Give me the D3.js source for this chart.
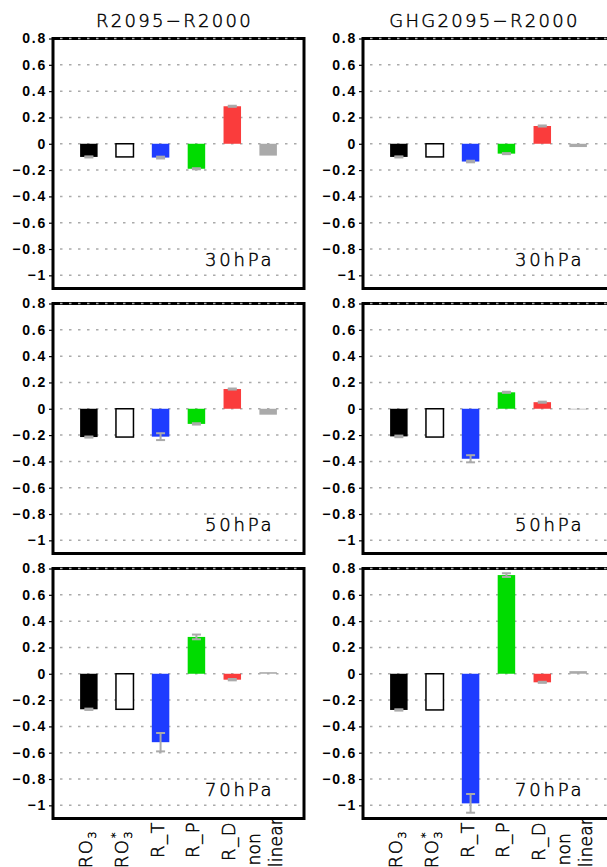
<!DOCTYPE html>
<html>
<head>
<meta charset="utf-8">
<script src="https://cdn.jsdelivr.net/npm/d3@7"></script>
<style>
  body { margin: 0; background: white; }
  svg { display: block; }
</style>
</head>
<body>
<div id="container"></div>
<script>
let w = 607;
let h = 867;

// data
let categories = ["RO3", "RO3*", "R_T", "R_P", "R_D", "non linear"];
let yTicks = [0.8, 0.6, 0.4, 0.2, 0, -0.2, -0.4, -0.6, -0.8, -1];
let titles = ["R2095\u2212R2000", "GHG2095\u2212R2000"];
let levels = ["30hPa", "50hPa", "70hPa"];

// R2095-R2000
let r30 = [-0.10, -0.10, -0.105, -0.19, 0.285, -0.09];
let r30err = [0.004, null, 0.007, 0.004, 0.004, null];
let r50 = [-0.215, -0.215, -0.212, -0.115, 0.15, -0.045];
let r50err = [0.004, null, 0.026, 0.005, 0.004, null];
let r70 = [-0.27, -0.27, -0.52, 0.28, -0.045, 0.012];
let r70err = [0.005, null, 0.07, 0.018, 0.005, null];

// GHG2095-R2000
let g30 = [-0.10, -0.10, -0.135, -0.075, 0.135, -0.025];
let g30err = [0.004, null, 0.006, 0.004, 0.004, null];
let g50 = [-0.21, -0.215, -0.38, 0.125, 0.05, -0.005];
let g50err = [0.006, null, 0.027, 0.004, 0.004, null];
let g70 = [-0.275, -0.275, -0.985, 0.75, -0.065, 0.02];
let g70err = [0.005, null, 0.071, 0.014, 0.004, null];

let panels = [
  {col: 0, row: 0, values: r30, err: r30err},
  {col: 1, row: 0, values: g30, err: g30err},
  {col: 0, row: 1, values: r50, err: r50err},
  {col: 1, row: 1, values: g50, err: g50err},
  {col: 0, row: 2, values: r70, err: r70err},
  {col: 1, row: 2, values: g70, err: g70err}
];

// styles
let barColors = ["#000000", "#ffffff", "#1e3cff", "#00dc00", "#fa3c3c", "#aaaaaa"];
let thinFont = "'DejaVu Sans', sans-serif";
let panelW = 251;
let panelH = 250;
let colX = [53, 363];
let rowY = [38.5, 303.5, 568.5];
let barW = 17.5;
let labelEnd = 821;

let viz = d3.select("#container").append("svg")
    .attr("width", w)
    .attr("height", h)
    .style("background-color", "white");

let y = d3.scaleLinear().domain([-1.1, 0.8]).range([panelH, 0]);
let x = d3.scalePoint().domain(categories).range([panelW / 7, panelW * 6 / 7]);

// thin black text, a bit like the plotting program's stroke font
function thin(sel, size, spacing){
  return sel
    .attr("font-family", thinFont)
    .attr("font-weight", 200)
    .attr("font-size", size)
    .attr("letter-spacing", spacing + "px")
    .attr("fill", "black")
    .attr("stroke", "black")
    .attr("stroke-width", 0.45);
}

panels.forEach(function(p){
  let g = viz.append("g")
    .attr("transform", "translate(" + colX[p.col] + "," + rowY[p.row] + ")");

  // frame
  g.append("rect")
    .attr("width", panelW)
    .attr("height", panelH)
    .attr("fill", "white")
    .attr("stroke", "black")
    .attr("stroke-width", 3);

  // y axis
  let axis = g.append("g")
    .call(d3.axisLeft(y).tickValues(yTicks).tickSize(4).tickPadding(2)
      .tickFormat(d3.format("~g")));
  axis.select(".domain").remove();
  axis.selectAll(".tick line").attr("stroke", "black").attr("stroke-width", 1.2);
  axis.selectAll(".tick text")
    .attr("font-family", "'Liberation Sans', Arial, sans-serif")
    .attr("font-weight", "bold")
    .attr("font-size", 14)
    .attr("letter-spacing", "1.8px")
    .attr("fill", "black");

  // grid
  g.selectAll(".grid").data(yTicks).enter()
    .append("line")
    .attr("class", "grid")
    .attr("x1", 3)
    .attr("x2", panelW - 2)
    .attr("y1", d => y(d))
    .attr("y2", d => y(d))
    .attr("stroke", "#aaaaaa")
    .attr("stroke-width", 1.5)
    .attr("stroke-dasharray", "2.5,6.5")
    .attr("stroke-dashoffset", -4);

  // bars
  g.selectAll(".bar").data(p.values).enter()
    .append("rect")
    .attr("class", "bar")
    .attr("x", (d, i) => x(categories[i]) - barW / 2)
    .attr("y", d => y(Math.max(d, 0)))
    .attr("width", barW)
    .attr("height", d => Math.abs(y(d) - y(0)))
    .attr("fill", (d, i) => barColors[i])
    .attr("stroke", (d, i) => i == 1 ? "black" : "none")
    .attr("stroke-width", 1.5);

  // error bars
  let eb = p.values.map((d, i) => ({c: categories[i], v: d, e: p.err[i]}))
    .filter(d => d.e != null);
  let ebG = g.selectAll(".err").data(eb).enter().append("g")
    .attr("class", "err")
    .attr("stroke", "#aaaaaa")
    .attr("stroke-width", 2);
  ebG.append("line")
    .attr("x1", d => x(d.c)).attr("x2", d => x(d.c))
    .attr("y1", d => y(d.v - d.e)).attr("y2", d => y(d.v + d.e));
  [-1, 1].forEach(function(s){
    ebG.append("line")
      .attr("x1", d => x(d.c) - 4.5).attr("x2", d => x(d.c) + 4.5)
      .attr("y1", d => y(d.v + s * d.e)).attr("y2", d => y(d.v + s * d.e));
  });

  // level label
  thin(g.append("text"), 18, 2.8)
    .attr("x", 152)
    .attr("y", 227.5)
    .text(levels[p.row]);

  // title
  if (p.row == 0){
    thin(g.append("text"), 18, 2.3)
      .attr("x", panelW / 2 - 4)
      .attr("y", -11.5)
      .attr("text-anchor", "middle")
      .text(titles[p.col]);
  }

  // category labels, rotated
  if (p.row == 2){
    categories.forEach(function(c){
      let lines = c.split(" ");
      let step = lines.length > 1 ? 22 : 0;
      lines.forEach(function(line, k){
        let cx = x(c) + 3 - step / 2 + k * step;
        let end = labelEnd;
        if (line.indexOf("RO3") == 0) end = labelEnd + 9;
        if (line == "non") end = labelEnd + 12;
        if (line == "linear") end = labelEnd - 3;
        let multi = lines.length > 1;
        let t = thin(g.append("text"), multi ? 17 : 18, multi ? 0.2 : 1.5)
          .attr("transform", "translate(" + cx + "," + (end - rowY[2]) + ") rotate(-90)")
          .attr("text-anchor", "end");
        if (line.indexOf("RO3") == 0){
          t.append("tspan").text("RO");
          t.append("tspan").attr("font-size", 11).attr("dy", 4).text("3");
          if (line.length > 3){
            t.append("tspan").attr("font-size", 11).attr("dx", -8).attr("dy", -13).text("*");
          }
        } else {
          t.text(line);
        }
      });
    });
  }
});
</script>
</body>
</html>
